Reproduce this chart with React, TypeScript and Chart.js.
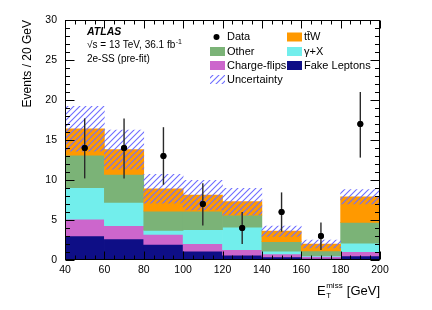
import React, { useEffect, useRef } from 'react';
import { Chart, registerables } from 'chart.js';

Chart.register(...registerables);

// ---- data ----
const binCenters = [50, 70, 90, 110, 130, 150, 170, 190];
const fakeLeptons = [3.0, 2.65, 1.95, 1.1, 0.6, 0.4, 0.2, 0.5];
const chargeFlips = [2.1, 1.65, 1.25, 0.95, 0.7, 0.35, 0.25, 0.55];
const gammaX = [3.95, 2.9, 0.5, 1.75, 2.8, 0.35, 0.1, 1.05];
const otherBkg = [4.05, 3.5, 2.4, 2.3, 1.5, 1.2, 0.6, 2.6];
const ttW = [3.3, 3.1, 2.8, 2.0, 1.7, 1.3, 0.85, 3.2];
const uncertainty = [2.8, 2.45, 1.8, 1.85, 1.65, 0.65, 0.5, 0.9];
const dataCounts = [14, 14, 13, 7, 4, 6, 3, 17];
const dataErrUp = [3.7, 3.7, 3.6, 2.6, 2.0, 2.45, 1.7, 4.0];
const dataErrDown = [3.8, 3.8, 3.6, 2.7, 2.0, 2.45, 1.75, 4.2];
const xTicks = [40, 60, 80, 100, 120, 140, 160, 180, 200];
const yTicks = [0, 5, 10, 15, 20, 25, 30];

const FONT = "'Liberation Sans', Arial, Helvetica, sans-serif";

const COLORS = {
  fake: '#0e0e86',
  cf: '#cc66cc',
  gamma: '#72eeec',
  other: '#7bb377',
  ttw: '#ff9900',
  hatch: '#6e6eff',
};

function makeHatch(): CanvasPattern | string {
  const c = document.createElement('canvas');
  c.width = 6;
  c.height = 6;
  const g = c.getContext('2d');
  if (!g) return 'rgba(110,110,255,0.4)';
  g.strokeStyle = COLORS.hatch;
  g.lineWidth = 1.1;
  g.beginPath();
  g.moveTo(0, 6);
  g.lineTo(6, 0);
  g.moveTo(-1, 1);
  g.lineTo(1, -1);
  g.moveTo(5, 7);
  g.lineTo(7, 5);
  g.stroke();
  return g.createPattern(c, 'repeat') || 'rgba(110,110,255,0.4)';
}

export default function App() {
  const ref = useRef<HTMLCanvasElement>(null);

  useEffect(() => {
    document.body.style.margin = '0';
    const canvas = ref.current;
    if (!canvas) return;
    const hatch = makeHatch();

    const components = [
      { label: 'Fake Leptons', values: fakeLeptons, color: COLORS.fake, order: 6 },
      { label: 'Charge-flips', values: chargeFlips, color: COLORS.cf, order: 5 },
      { label: 'γ+X', values: gammaX, color: COLORS.gamma, order: 4 },
      { label: 'Other', values: otherBkg, color: COLORS.other, order: 3 },
      { label: 'tt̄W', values: ttW, color: COLORS.ttw, order: 2 },
    ];
    const base = binCenters.map(() => 0);
    const barSets: any[] = components.map((c) => ({
      type: 'bar',
      label: c.label,
      data: c.values.map((v, i) => {
        const lo = base[i];
        const hi = lo + v;
        base[i] = hi;
        return { x: binCenters[i], y: [lo, hi] };
      }),
      backgroundColor: c.color,
      borderWidth: 0,
      grouped: false,
      barPercentage: 1,
      categoryPercentage: 1,
      order: c.order,
    }));
    const totals = base.slice();
    barSets.push({
      type: 'bar',
      label: 'Uncertainty',
      data: totals.map((t, i) => ({ x: binCenters[i], y: [t - uncertainty[i], t + uncertainty[i]] })),
      backgroundColor: hatch,
      borderWidth: 0,
      grouped: false,
      barPercentage: 1,
      categoryPercentage: 1,
      order: 1,
    });
    const dataSet = {
      type: 'scatter',
      label: 'Data',
      data: dataCounts.map((v, i) => ({ x: binCenters[i], y: v })),
      backgroundColor: '#000',
      borderColor: '#000',
      pointRadius: 3,
      pointBorderWidth: 0,
      showLine: false,
      order: 0,
    };

    const decor = {
      id: 'decor',
      afterDatasetsDraw(chart: any) {
        const ctx = chart.ctx as CanvasRenderingContext2D;
        const xs = chart.scales.x;
        const ys = chart.scales.y;
        ctx.save();
        ctx.strokeStyle = '#2a2a2a';
        ctx.lineWidth = 1.4;
        dataCounts.forEach((v, i) => {
          const px = xs.getPixelForValue(binCenters[i]);
          ctx.beginPath();
          ctx.moveTo(px, ys.getPixelForValue(v + dataErrUp[i]));
          ctx.lineTo(px, ys.getPixelForValue(v - dataErrDown[i]));
          ctx.stroke();
        });
        ctx.fillStyle = '#000';
        dataCounts.forEach((v, i) => {
          ctx.beginPath();
          ctx.arc(xs.getPixelForValue(binCenters[i]), ys.getPixelForValue(v), 3, 0, Math.PI * 2);
          ctx.fill();
        });
        ctx.restore();
      },
      afterDraw(chart: any) {
        const ctx = chart.ctx as CanvasRenderingContext2D;
        const { left, right, top, bottom } = chart.chartArea;
        const xs = chart.scales.x;
        const ys = chart.scales.y;
        ctx.save();
        // frame
        ctx.strokeStyle = '#000';
        ctx.lineWidth = 1;
        const L = Math.round(left) + 0.5;
        const R = Math.round(right) - 0.5;
        const T = Math.round(top) + 0.5;
        const B = Math.round(bottom) - 0.5;
        ctx.strokeRect(L, T, R - L, B - T);
        // y ticks
        ctx.beginPath();
        for (let v = yTicks[0]; v <= yTicks[yTicks.length - 1]; v += 1) {
          const y = Math.round(ys.getPixelForValue(v)) + 0.5;
          const len = yTicks.includes(v) ? 9 : 4.5;
          ctx.moveTo(L, y);
          ctx.lineTo(L + len, y);
          ctx.moveTo(R, y);
          ctx.lineTo(R - len, y);
        }
        // x ticks
        for (let v = xTicks[0]; v <= xTicks[xTicks.length - 1]; v += 5) {
          const x = Math.round(xs.getPixelForValue(v)) + 0.5;
          const len = xTicks.includes(v) ? 8 : 4;
          ctx.moveTo(x, B);
          ctx.lineTo(x, B - len);
          ctx.moveTo(x, T);
          ctx.lineTo(x, T + len);
        }
        ctx.stroke();

        // y title
        ctx.fillStyle = '#000';
        ctx.save();
        ctx.translate(28, 20);
        ctx.rotate(-Math.PI / 2);
        ctx.font = `12px ${FONT}`;
        ctx.textAlign = 'right';
        ctx.textBaseline = 'middle';
        ctx.fillText('Events / 20 GeV', 0, 0);
        ctx.restore();

        // x title: E_T^miss [GeV]
        ctx.textBaseline = 'alphabetic';
        ctx.textAlign = 'left';
        const bigF = `13px ${FONT}`;
        const smallF = `8px ${FONT}`;
        ctx.font = bigF;
        const wE = ctx.measureText('E').width;
        const wRest = ctx.measureText(' [GeV]').width;
        ctx.font = smallF;
        const wSub = Math.max(ctx.measureText('T').width, ctx.measureText('miss').width);
        const x0 = 380 - (wE + wSub + 1 + wRest);
        const bl = 295;
        ctx.font = bigF;
        ctx.fillText('E', x0, bl);
        ctx.font = smallF;
        ctx.fillText('miss', x0 + wE + 0.5, bl - 7);
        ctx.fillText('T', x0 + wE + 0.5, bl + 2.5);
        ctx.font = bigF;
        ctx.fillText(' [GeV]', x0 + wE + wSub + 1, bl);

        // ATLAS label
        ctx.textBaseline = 'middle';
        ctx.font = `italic bold 10.5px ${FONT}`;
        ctx.fillText('ATLAS', 87, 32.5);
        ctx.font = `10px ${FONT}`;
        const sLine = '√s = 13 TeV, 36.1 fb';
        ctx.fillText(sLine, 87, 45.5);
        const wS = ctx.measureText(sLine).width;
        ctx.font = `7px ${FONT}`;
        ctx.fillText('-1', 87 + wS + 0.5, 42);
        ctx.font = `10px ${FONT}`;
        ctx.fillText('2e-SS (pre-fit)', 87, 59.5);

        // legend
        ctx.font = `11px ${FONT}`;
        const rows = [37, 51.5, 65.5, 79.5];
        const col1Box = 210;
        const col1Text = 227;
        const col2Box = 287;
        const col2Text = 304;
        const box = (x: number, y: number, fill: any) => {
          ctx.fillStyle = fill;
          ctx.fillRect(x, y - 4.5, 15, 9);
        };
        ctx.fillStyle = '#000';
        ctx.beginPath();
        ctx.arc(216.5, rows[0], 3, 0, Math.PI * 2);
        ctx.fill();
        ctx.fillText('Data', col1Text, rows[0]);
        box(col1Box, rows[1], COLORS.other);
        ctx.fillStyle = '#000';
        ctx.fillText('Other', col1Text, rows[1]);
        box(col1Box, rows[2], COLORS.cf);
        ctx.fillStyle = '#000';
        ctx.fillText('Charge-flips', col1Text, rows[2]);
        box(col1Box, rows[3], hatch);
        ctx.fillStyle = '#000';
        ctx.fillText('Uncertainty', col1Text, rows[3]);
        box(col2Box, rows[0], COLORS.ttw);
        ctx.fillStyle = '#000';
        ctx.fillText('tt̄W', col2Text, rows[0]);
        box(col2Box, rows[1], COLORS.gamma);
        ctx.fillStyle = '#000';
        ctx.fillText('γ+X', col2Text, rows[1]);
        box(col2Box, rows[2], COLORS.fake);
        ctx.fillStyle = '#000';
        ctx.fillText('Fake Leptons', col2Text, rows[2]);
        ctx.restore();
      },
    };

    const chart = new Chart(canvas, {
      type: 'bar',
      data: { datasets: [...barSets, dataSet] as any },
      options: {
        animation: false,
        responsive: false,
        devicePixelRatio: 1,
        layout: { padding: { top: 20, right: 52, left: 0, bottom: 0 } },
        plugins: { legend: { display: false }, tooltip: { enabled: false } },
        scales: {
          x: {
            type: 'linear',
            min: 40,
            max: 200,
            offset: false,
            afterBuildTicks: (s: any) => {
              s.ticks = xTicks.map((v) => ({ value: v }));
            },
            afterFit: (s: any) => {
              s.height = 50;
            },
            grid: { display: false, drawTicks: false, offset: false },
            border: { display: false },
            ticks: {
              autoSkip: false,
              maxRotation: 0,
              padding: 4,
              color: '#000',
              font: { family: FONT, size: 10.5 },
            },
          },
          y: {
            type: 'linear',
            min: 0,
            max: 30,
            afterBuildTicks: (s: any) => {
              s.ticks = yTicks.map((v) => ({ value: v }));
            },
            afterFit: (s: any) => {
              s.width = 65;
            },
            grid: { display: false, drawTicks: false },
            border: { display: false },
            ticks: {
              padding: 8,
              color: '#000',
              font: { family: FONT, size: 10.5 },
            },
          },
        },
      } as any,
      plugins: [decor],
    });
    return () => chart.destroy();
  }, []);

  return (
    <div style={{ width: 432, height: 310 }}>
      <canvas ref={ref} width={432} height={310} style={{ display: 'block' }} />
    </div>
  );
}
